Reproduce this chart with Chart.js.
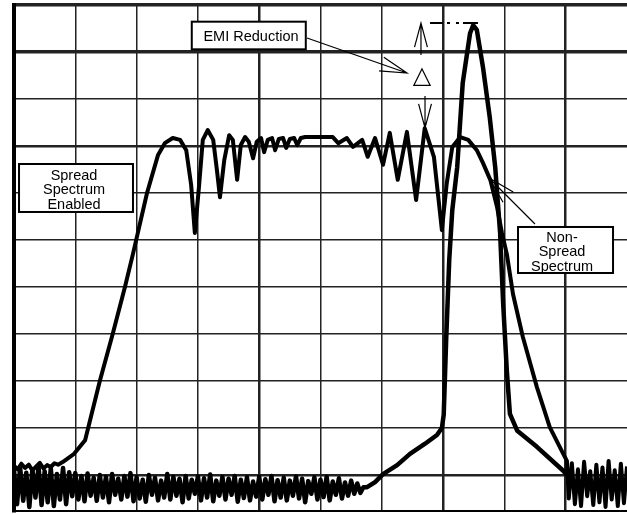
<!DOCTYPE html>
<html>
<head>
<meta charset="utf-8">
<title>Spread spectrum EMI reduction</title>
<script src="https://cdn.jsdelivr.net/npm/chart.js@4.4.0/dist/chart.umd.min.js"></script>
<style>
  html, body { margin: 0; padding: 0; background: #fff; }
  #wrap { width: 627px; height: 514px; }
</style>
</head>
<body>
<div id="wrap"><canvas id="myChart" width="627" height="514"></canvas></div>
<script>
// Traces, in graticule divisions.
// x: 0..10 divisions across, y: divisions above the lowest full graticule line
const xTicks = [0, 1, 2, 3, 4, 5, 6, 7, 8, 9, 10];
const yTicks = [0, 1, 2, 3, 4, 5, 6, 7, 8, 9, 10];

// spread spectrum enabled: noise floor on the left, wide hump, floor on the right
const spreadFloorLeft = [
  [0.00, 0.20], [0.06, 0.12], [0.12, 0.24], [0.18, 0.15], [0.24, 0.22], [0.30, 0.10],
  [0.36, 0.18], [0.42, 0.26], [0.48, 0.14], [0.54, 0.21], [0.60, 0.17], [0.66, 0.25],
  [0.72, 0.22], [0.80, 0.28],
];
const spreadHump = [
  [0.98, 0.45], [1.16, 0.74], [1.40, 2.00], [1.61, 3.00], [1.81, 4.00], [1.94, 4.70],
  [2.17, 6.00], [2.35, 6.81], [2.46, 7.06], [2.59, 7.17], [2.71, 7.13], [2.81, 6.91],
  [2.89, 6.17], [2.95, 5.15], [3.02, 6.17], [3.08, 7.13], [3.16, 7.34], [3.25, 7.13],
  [3.31, 6.49], [3.36, 5.91], [3.43, 6.70], [3.51, 7.23], [3.57, 7.13], [3.64, 6.28],
  [3.70, 7.02], [3.77, 7.19], [3.83, 7.09], [3.90, 6.74], [3.96, 7.09], [4.03, 7.17],
  [4.08, 6.87], [4.14, 7.13], [4.21, 7.17], [4.26, 6.91], [4.32, 7.15], [4.39, 7.17],
  [4.44, 6.96], [4.50, 7.15], [4.57, 7.17], [4.62, 7.02], [4.68, 7.17], [4.75, 7.19],
  [5.20, 7.19], [5.29, 7.06], [5.43, 7.17], [5.53, 6.98], [5.68, 7.13], [5.77, 6.77],
  [5.89, 7.17], [6.02, 6.60], [6.13, 7.28], [6.26, 6.28], [6.41, 7.30], [6.56, 5.85],
  [6.70, 7.38], [6.85, 6.77], [6.98, 5.21], [7.06, 6.21], [7.15, 6.98], [7.28, 7.19],
  [7.41, 7.13], [7.55, 6.91], [7.65, 6.64], [7.77, 6.28], [7.88, 5.70], [7.96, 5.15],
  [8.04, 4.70], [8.14, 3.85], [8.30, 2.94], [8.53, 1.87], [8.74, 1.02], [8.96, 0.45],
  [9.02, 0.30],
];
const spreadFloorRight = [
  [9.05, -0.50], [9.10, 0.25], [9.15, -0.62], [9.20, 0.12], [9.25, -0.66], [9.30, 0.28],
  [9.35, -0.45], [9.40, 0.08], [9.45, -0.64], [9.50, 0.22], [9.55, -0.58], [9.60, 0.16],
  [9.65, -0.68], [9.70, 0.30], [9.75, -0.52], [9.80, 0.10], [9.85, -0.66], [9.90, 0.24],
  [9.95, -0.60], [10.00, 0.18],
];

// non-spread: noise floor then the single narrow carrier
const nonSpreadFloor = [
  [0.00, 0.10], [0.05, -0.62], [0.10, 0.16], [0.15, -0.55], [0.20, 0.05], [0.25, -0.68], [0.30, 0.12], [0.35, -0.48], [0.40, 0.18], [0.45, -0.64],
  [0.50, 0.08], [0.55, -0.58], [0.60, 0.14], [0.65, -0.66], [0.70, 0.02], [0.75, -0.52], [0.80, 0.15], [0.85, -0.62], [0.90, 0.06], [0.95, -0.45],
  [1.00, 0.04], [1.05, -0.52], [1.10, -0.02], [1.15, -0.56], [1.20, 0.03], [1.25, -0.44], [1.30, -0.06], [1.35, -0.55], [1.40, 0.00], [1.45, -0.48],
  [1.50, -0.04], [1.55, -0.58], [1.60, 0.02], [1.65, -0.42], [1.70, -0.08], [1.75, -0.52], [1.80, -0.02], [1.85, -0.46], [1.90, 0.04], [1.95, -0.56],
  [2.00, -0.05], [2.05, -0.50], [2.10, -0.10], [2.15, -0.57], [2.20, 0.00], [2.25, -0.42], [2.30, -0.06], [2.35, -0.54], [2.40, -0.12], [2.45, -0.48],
  [2.50, 0.02], [2.55, -0.52], [2.60, -0.04], [2.65, -0.44], [2.70, -0.08], [2.75, -0.58], [2.80, -0.02], [2.85, -0.50], [2.90, -0.10], [2.95, -0.40],
  [3.00, -0.03], [3.05, -0.54], [3.10, -0.07], [3.15, -0.48], [3.20, 0.01], [3.25, -0.56], [3.30, -0.12], [3.35, -0.44], [3.40, -0.04], [3.45, -0.52],
  [3.50, -0.08], [3.55, -0.42], [3.60, -0.02], [3.65, -0.57], [3.70, -0.10], [3.75, -0.49], [3.80, -0.05], [3.85, -0.54], [3.90, -0.14], [3.95, -0.46],
  [4.00, -0.04], [4.05, -0.52], [4.10, -0.09], [4.15, -0.42], [4.20, -0.02], [4.25, -0.56], [4.30, -0.11], [4.35, -0.48], [4.40, -0.06], [4.45, -0.54],
  [4.50, -0.12], [4.55, -0.44], [4.60, -0.03], [4.65, -0.50], [4.70, -0.08], [4.75, -0.58], [4.80, -0.13], [4.85, -0.40], [4.90, -0.05], [4.95, -0.52],
  [5.00, -0.10], [5.05, -0.47], [5.10, -0.04], [5.15, -0.54], [5.20, -0.14], [5.25, -0.42], [5.30, -0.07], [5.35, -0.50], [5.40, -0.16], [5.45, -0.44],
  [5.50, -0.12], [5.55, -0.40], [5.60, -0.18], [5.65, -0.38], [5.70, -0.26],
];
const nonSpreadCarrier = [
  [5.76, -0.26], [5.89, -0.15], [6.02, 0.02], [6.25, 0.21], [6.46, 0.45], [6.70, 0.66],
  [6.90, 0.85], [6.98, 1.00], [7.01, 1.28], [7.05, 2.87], [7.10, 4.57], [7.15, 5.64],
  [7.23, 6.55], [7.32, 8.34], [7.44, 9.40], [7.49, 9.57], [7.55, 9.47], [7.65, 8.68],
  [7.76, 7.62], [7.85, 6.55], [7.93, 5.15], [7.98, 3.64], [8.04, 2.21], [8.09, 1.30],
  [8.21, 0.94], [8.53, 0.60], [8.96, 0.09], [9.02, 0.00],
];

const spreadTrace = [...spreadFloorLeft, ...spreadHump, ...spreadFloorRight];
const nonSpreadTrace = [...nonSpreadFloor, ...nonSpreadCarrier];

const toPoints = (trace) => trace.map(([x, y]) => ({ x, y }));

// line helpers for the callouts
function drawArrow(ctx, x0, y0, x1, y1, head) {
  const a = Math.atan2(y0 - y1, x0 - x1);
  const spread = 0.26;
  ctx.beginPath();
  ctx.moveTo(x0, y0);
  ctx.lineTo(x1, y1);
  ctx.moveTo(x1 + head * Math.cos(a + spread), y1 + head * Math.sin(a + spread));
  ctx.lineTo(x1, y1);
  ctx.lineTo(x1 + head * Math.cos(a - spread), y1 + head * Math.sin(a - spread));
  ctx.stroke();
}

function drawNote(ctx, px, py, box, lines, cx, baselines) {
  const left = px(box[0]), right = px(box[1]);
  const top = py(box[2]), bottom = py(box[3]);
  ctx.fillStyle = "#fff";
  ctx.fillRect(left, top, right - left, bottom - top);
  ctx.lineWidth = 2;
  ctx.strokeStyle = "#000";
  ctx.strokeRect(left, top, right - left, bottom - top);
  ctx.fillStyle = "#000";
  ctx.font = '14.5px "Liberation Sans", Arial, sans-serif';
  ctx.textAlign = "center";
  ctx.textBaseline = "alphabetic";
  lines.forEach((t, i) => ctx.fillText(t, px(cx), py(baselines[i])));
}

// callouts are placed in graticule units so they follow the scales
const calloutPlugin = {
  id: "callouts",
  afterDatasetsDraw(chart) {
    const { ctx } = chart;
    const px = (v) => chart.scales.x.getPixelForValue(v);
    const py = (v) => chart.scales.y.getPixelForValue(v);
    ctx.save();

    drawNote(ctx, px, py, [2.90, 4.76, 9.645, 9.057], ["EMI Reduction"], 3.866, [9.24]);
    drawNote(ctx, px, py, [0.082, 1.941, 6.617, 5.596], ["Spread", "Spectrum", "Enabled"], 0.979, [6.287, 5.979, 5.670]);
    drawNote(ctx, px, py, [8.222, 9.772, 5.277, 4.298], ["Non-", "Spread", "Spectrum"], 8.94, [4.957, 4.649, 4.340]);

    ctx.strokeStyle = "#000";
    ctx.lineWidth = 1.2;
    drawArrow(ctx, px(4.78), py(9.298), px(6.411), py(8.553), 28);
    drawArrow(ctx, px(8.499), py(5.34), px(7.749), py(6.319), 28);
    drawArrow(ctx, px(6.639), py(8.936), px(6.639), py(9.617), 25);
    drawArrow(ctx, px(6.705), py(8.064), px(6.705), py(7.383), 25);

    // peak reference line
    ctx.lineWidth = 2.2;
    ctx.setLineDash([13, 4, 3, 6, 3, 4, 15]);
    ctx.beginPath();
    ctx.moveTo(px(6.786), py(9.617));
    ctx.lineTo(px(7.569), py(9.617));
    ctx.stroke();
    ctx.setLineDash([]);

    ctx.fillStyle = "#000";
    ctx.font = '24px "DejaVu Sans", sans-serif';
    ctx.textAlign = "center";
    ctx.textBaseline = "middle";
    ctx.fillText("\u25B3", px(6.656), py(8.468));
    ctx.restore();
  },
};

const gridWidth = (heavy, medium, hidden) => (c) => {
  const v = c.tick ? c.tick.value : null;
  if (hidden.includes(v)) return 0;
  if (heavy.includes(v)) return 3.5;
  if (medium.includes(v)) return 2.5;
  return 1.5;
};

const ctx = document.getElementById("myChart");
new Chart(ctx, {
  type: "line",
  data: {
    datasets: [
      {
        label: "Spread Spectrum Enabled",
        data: toPoints(spreadTrace),
        borderColor: "#000",
        borderWidth: 4,
        pointRadius: 0,
        tension: 0,
        borderJoinStyle: "round",
      },
      {
        label: "Non-Spread Spectrum",
        data: toPoints(nonSpreadTrace),
        borderColor: "#000",
        borderWidth: 4.5,
        pointRadius: 0,
        tension: 0,
        borderJoinStyle: "round",
      },
    ],
  },
  options: {
    responsive: false,
    animation: false,
    devicePixelRatio: 1,
    layout: { padding: { left: 14, top: 5, right: 0, bottom: 3 } },
    plugins: { legend: { display: false }, tooltip: { enabled: false } },
    scales: {
      x: {
        type: "linear",
        bounds: "data",
        min: 0,
        max: 10,
        afterBuildTicks: (scale) => { scale.ticks = xTicks.map((v) => ({ value: v })); },
        ticks: { display: false },
        grid: { color: "#222", lineWidth: gridWidth([], [4, 7, 9], [0, 10]), drawTicks: false },
        border: { display: true, color: "#000", width: 2 },
      },
      y: {
        type: "linear",
        bounds: "data",
        min: -0.766,
        max: 10,
        afterBuildTicks: (scale) => { scale.ticks = yTicks.map((v) => ({ value: v })); },
        ticks: { display: false },
        grid: { color: "#222", lineWidth: gridWidth([9, 10], [0, 7], []), drawTicks: false },
        border: { display: true, color: "#000", width: 4 },
      },
    },
  },
  plugins: [calloutPlugin],
});
</script>
</body>
</html>
